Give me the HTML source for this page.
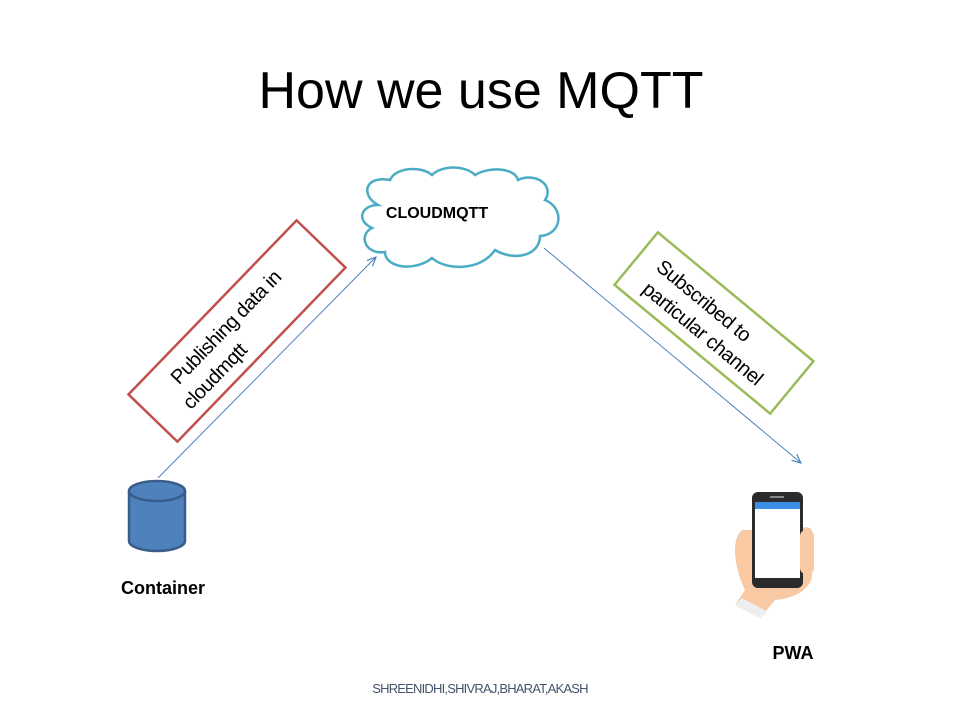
<!DOCTYPE html>
<html><head><style>body{margin:0;background:#fff}svg{display:block}</style></head><body>
<svg width="960" height="720" viewBox="0 0 960 720" xmlns="http://www.w3.org/2000/svg" font-family="Liberation Sans, sans-serif">
<text x="481" y="108" text-anchor="middle" font-size="52">How we use MQTT</text>
<g fill="#fff" stroke="#4bacc6" stroke-width="2.5">
<path d="M378,205 C360,195 365,175 390,180 C395,168 420,165 432,175 C442,165 465,165 475,175 C490,166 515,168 518,180 C535,172 555,185 545,200 C565,208 562,235 540,236 C540,255 515,262 495,250 C480,272 445,270 432,258 C415,272 385,268 385,252 C365,255 358,235 372,228 C355,220 362,205 378,205 Z"/>
</g>
<text x="437" y="218" text-anchor="middle" font-size="16" font-weight="bold">CLOUDMQTT</text>
<defs><marker id="a" markerWidth="10" markerHeight="10" refX="9" refY="5" orient="auto"><path d="M0,1 L9,5 L0,9" fill="none" stroke="#4f81bd" stroke-width="1.2"/></marker></defs>
<line x1="158" y1="478" x2="376" y2="257" stroke="#4f81bd" stroke-width="1" marker-end="url(#a)"/>
<line x1="544" y1="248" x2="801" y2="463" stroke="#4f81bd" stroke-width="1" marker-end="url(#a)"/>
<g transform="translate(237,331) rotate(-46)">
<rect x="-121" y="-34" width="242" height="68" fill="#fff" stroke="#c0504d" stroke-width="2.5"/>
<text x="-5" y="-4" text-anchor="middle" font-size="20" letter-spacing="-0.5">Publishing data in</text>
<text x="-48" y="22" text-anchor="middle" font-size="20" letter-spacing="-0.5">cloudmqtt</text>
</g>
<g transform="translate(714,323) rotate(39.6)">
<rect x="-101" y="-34" width="202" height="68" fill="#fff" stroke="#9bbb59" stroke-width="2.5"/>
<text x="-22" y="-4" text-anchor="middle" font-size="20" letter-spacing="-0.5">Subscribed to</text>
<text x="-2" y="22" text-anchor="middle" font-size="20" letter-spacing="-0.5">particular channel</text>
</g>
<g stroke="#385d8a" stroke-width="2.5" fill="#4f81bd">
<path d="M129,491 L129,541 A28,10 0 0 0 185,541 L185,491"/>
<ellipse cx="157" cy="491" rx="28" ry="10"/>
</g>
<text x="163" y="594" text-anchor="middle" font-size="18" font-weight="bold">Container</text>
<path d="M742,530 C730,540 735,570 745,590 L735,605 L760,618 L775,600 C800,598 812,585 812,575 L812,530 C808,525 800,528 800,530 Z" fill="#f9c9a4"/>
<path d="M735,605 L760,618 L768,612 L742,598 Z" fill="#eee"/>
<rect x="752" y="492" width="51" height="96" rx="6" fill="#2b2b2b"/>
<rect x="755" y="502" width="45" height="76" fill="#fff"/>
<rect x="755" y="502" width="45" height="7" fill="#3a8ee6"/>
<rect x="770" y="496" width="14" height="2" fill="#888"/>
<rect x="800" y="530" width="14" height="44" rx="6" fill="#f9c9a4"/>
<text x="793" y="659" text-anchor="middle" font-size="18" font-weight="bold">PWA</text>
<text x="480" y="693" text-anchor="middle" font-size="13" fill="#44546a" letter-spacing="-0.8">SHREENIDHI,SHIVRAJ,BHARAT,AKASH</text>
</svg>
</body></html>
